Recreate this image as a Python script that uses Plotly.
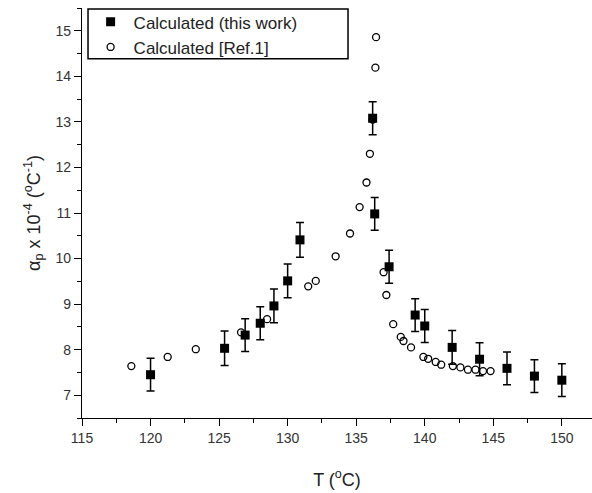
import plotly.graph_objects as go

# Calculated (this work)
T_work = [120.0, 125.4, 126.9, 128.0, 129.0, 130.0, 130.9, 136.2, 136.35, 137.4, 139.3, 140.0, 142.0, 144.0, 146.0, 148.0, 150.0]
a_work = [7.45, 8.03, 8.32, 8.58, 8.96, 9.51, 10.41, 13.08, 10.98, 9.82, 8.76, 8.52, 8.05, 7.79, 7.59, 7.42, 7.33]
err_work = [0.36, 0.38, 0.36, 0.36, 0.37, 0.37, 0.38, 0.36, 0.36, 0.36, 0.36, 0.36, 0.37, 0.36, 0.36, 0.36, 0.36]

# Calculated [Ref.1]
T_ref = [118.6, 121.25, 123.3, 126.6, 128.5, 131.5, 132.05, 133.5, 134.55, 135.25, 135.75, 136.0, 136.2, 136.4, 136.45,
         137.0, 137.2, 137.7, 138.25, 138.45, 139.0, 139.9, 140.25, 140.8, 141.2, 142.05, 142.6, 143.15, 143.7, 144.25, 144.8]
a_ref = [7.64, 7.84, 8.01, 8.38, 8.67, 9.39, 9.51, 10.05, 10.55, 11.13, 11.67, 12.30, 13.05, 14.19, 14.86,
         9.70, 9.20, 8.56, 8.28, 8.19, 8.05, 7.84, 7.80, 7.73, 7.67, 7.64, 7.61, 7.56, 7.56, 7.53, 7.53]

x_ticks = [115, 120, 125, 130, 135, 140, 145, 150]
y_ticks = [7, 8, 9, 10, 11, 12, 13, 14, 15]

FONT = "Arial, Liberation Sans, sans-serif"

fig = go.Figure()
fig.add_trace(go.Scatter(
    x=T_work, y=a_work, mode="markers", name="Calculated (this work)",
    marker=dict(symbol="square", size=9, color="black"),
    error_y=dict(type="data", array=err_work, color="black", thickness=1.5, width=4),
))
fig.add_trace(go.Scatter(
    x=T_ref, y=a_ref, mode="markers", name="Calculated [Ref.1]",
    marker=dict(symbol="circle-open", size=7, color="black", line=dict(width=1.3)),
))

axis_common = dict(
    showgrid=False, zeroline=False, showline=True, linecolor="black", linewidth=1.2,
    ticks="outside", ticklen=7, tickwidth=1.2, tickcolor="black",
    tickfont=dict(family=FONT, size=14, color="#333333"),
)
fig.update_xaxes(
    range=[115, 152.2], tickvals=x_ticks,
    minor=dict(ticks="outside", ticklen=4, tickwidth=1, tickcolor="black", dtick=2.5, tick0=115),
    title=dict(text="T (<sup>o</sup>C)", font=dict(family=FONT, size=18, color="#222222"), standoff=28),
    **axis_common,
)
fig.update_yaxes(
    range=[6.5, 15.5], tickvals=y_ticks,
    minor=dict(ticks="outside", ticklen=4, tickwidth=1, tickcolor="black", dtick=0.5, tick0=6.5),
    title=dict(text="α<sub>p</sub> x 10<sup>-4</sup> (<sup>o</sup>C<sup>-1</sup>)",
               font=dict(family=FONT, size=18, color="#222222"), standoff=10),
    **axis_common,
)
# legend frame (wider than the text, as in the original)
fig.add_shape(type="rect", xref="paper", yref="paper",
              x0=0.0118, x1=0.5216, y0=0.876, y1=0.9976,
              line=dict(color="black", width=1.5), fillcolor="white", layer="below")
fig.update_layout(
    width=592, height=493,
    margin=dict(l=82, r=0, t=8, b=75),
    paper_bgcolor="white", plot_bgcolor="white",
    showlegend=True,
    legend=dict(x=0.011, y=1.009, xanchor="left", yanchor="top",
                borderwidth=0, bgcolor="rgba(0,0,0,0)",
                font=dict(family=FONT, size=17, color="#222222"),
                tracegroupgap=0, itemwidth=36),
)
fig.write_html("out.html")
